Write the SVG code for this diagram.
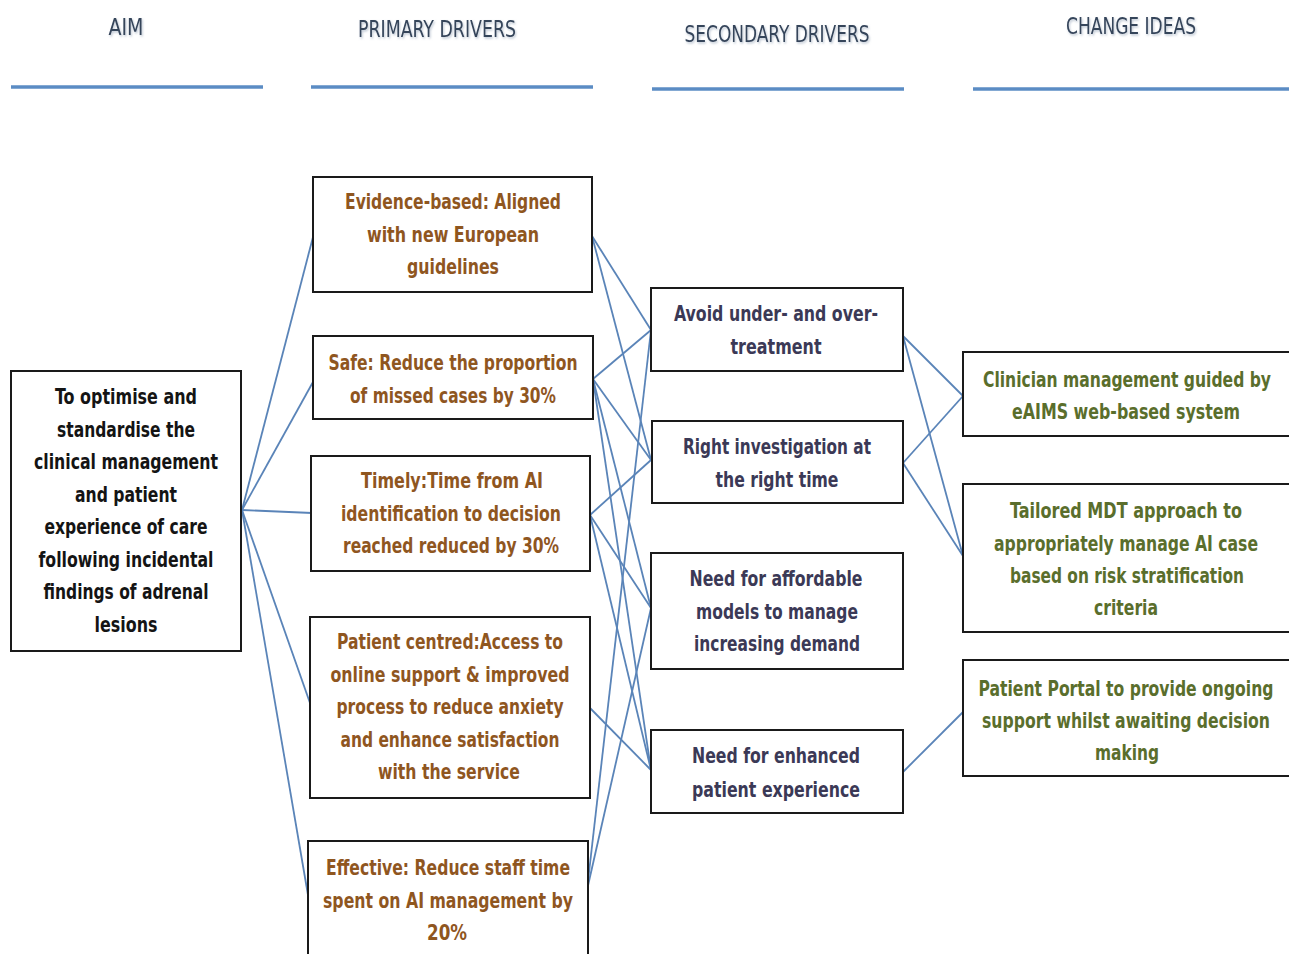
<svg xmlns="http://www.w3.org/2000/svg" width="1289" height="954" viewBox="0 0 1289 954">
<defs>
<filter id="sh" x="-10%" y="-30%" width="120%" height="160%">
<feDropShadow dx="1" dy="1.5" stdDeviation="0.8" flood-color="#8a9bb0" flood-opacity="0.6"/>
</filter>
</defs>
<style>
.bg{fill:#fff}
.box{fill:#fff;stroke:#1a1a1a;stroke-width:2}
.hdr{font-family:"DejaVu Sans Condensed","Liberation Sans",sans-serif;font-size:23px;fill:#34445a;text-anchor:middle;filter:url(#sh)}
.rule{stroke:#5b8cc4;stroke-width:3.5}
text.t{font-family:"DejaVu Sans Condensed","Liberation Sans",sans-serif;font-size:22px;font-weight:bold;text-anchor:middle}
.aim{fill:#141414}
.pri{fill:#8f561f}
.sec{fill:#3b3956}
.chg{fill:#5a6e2c}
.con line{stroke:#5a84b8;stroke-width:1.8}
</style>
<rect class="bg" x="0" y="0" width="1289" height="954"/>
<g id="headers">
<text class="hdr" x="126" y="35" textLength="35" lengthAdjust="spacingAndGlyphs">AIM</text>
<text class="hdr" x="437" y="37" textLength="158" lengthAdjust="spacingAndGlyphs">PRIMARY DRIVERS</text>
<text class="hdr" x="777" y="42" textLength="185" lengthAdjust="spacingAndGlyphs">SECONDARY DRIVERS</text>
<text class="hdr" x="1131" y="34" textLength="130" lengthAdjust="spacingAndGlyphs">CHANGE IDEAS</text>
<line class="rule" x1="11" y1="87" x2="263" y2="87"/>
<line class="rule" x1="311" y1="87" x2="593" y2="87"/>
<line class="rule" x1="652" y1="89" x2="904" y2="89"/>
<line class="rule" x1="973" y1="89" x2="1289" y2="89"/>
</g>
<g id="connectors" class="con">
<line x1="242" y1="510" x2="313" y2="237"/>
<line x1="242" y1="510" x2="313" y2="382"/>
<line x1="242" y1="510" x2="312" y2="513"/>
<line x1="242" y1="510" x2="310" y2="703"/>
<line x1="242" y1="510" x2="308" y2="895"/>
<line x1="592" y1="236" x2="651" y2="330"/>
<line x1="592" y1="236" x2="651" y2="460"/>
<line x1="593" y1="379" x2="651" y2="330"/>
<line x1="593" y1="379" x2="651" y2="460"/>
<line x1="593" y1="379" x2="651" y2="608"/>
<line x1="593" y1="379" x2="651" y2="770"/>
<line x1="590" y1="515" x2="651" y2="460"/>
<line x1="590" y1="515" x2="651" y2="608"/>
<line x1="590" y1="515" x2="651" y2="770"/>
<line x1="590" y1="708" x2="651" y2="770"/>
<line x1="587" y1="890" x2="651" y2="330"/>
<line x1="587" y1="890" x2="651" y2="608"/>
<line x1="903" y1="336" x2="963" y2="396"/>
<line x1="903" y1="336" x2="963" y2="556"/>
<line x1="903" y1="463" x2="963" y2="396"/>
<line x1="903" y1="463" x2="963" y2="556"/>
<line x1="903" y1="772" x2="963" y2="712"/>
</g>
<g id="aim">
<rect class="box" x="11" y="371" width="230" height="280"/>
<text class="t aim" x="126" y="404" textLength="142" lengthAdjust="spacingAndGlyphs">To optimise and</text>
<text class="t aim" x="126" y="437" textLength="138" lengthAdjust="spacingAndGlyphs">standardise the</text>
<text class="t aim" x="126" y="469" textLength="184" lengthAdjust="spacingAndGlyphs">clinical management</text>
<text class="t aim" x="126" y="502" textLength="102" lengthAdjust="spacingAndGlyphs">and patient</text>
<text class="t aim" x="126" y="534" textLength="163" lengthAdjust="spacingAndGlyphs">experience of care</text>
<text class="t aim" x="126" y="567" textLength="175" lengthAdjust="spacingAndGlyphs">following incidental</text>
<text class="t aim" x="126" y="599" textLength="165" lengthAdjust="spacingAndGlyphs">findings of adrenal</text>
<text class="t aim" x="126" y="632" textLength="63" lengthAdjust="spacingAndGlyphs">lesions</text>
</g>
<g id="p-evidence">
<rect class="box" x="313" y="177" width="279" height="115"/>
<text class="t pri" x="453" y="209" textLength="216" lengthAdjust="spacingAndGlyphs">Evidence-based: Aligned</text>
<text class="t pri" x="453" y="242" textLength="172" lengthAdjust="spacingAndGlyphs">with new European</text>
<text class="t pri" x="453" y="274" textLength="92" lengthAdjust="spacingAndGlyphs">guidelines</text>
</g>
<g id="p-safe">
<rect class="box" x="313" y="336" width="280" height="83"/>
<text class="t pri" x="453" y="370" textLength="249" lengthAdjust="spacingAndGlyphs">Safe: Reduce the proportion</text>
<text class="t pri" x="453" y="403" textLength="206" lengthAdjust="spacingAndGlyphs">of missed cases by 30%</text>
</g>
<g id="p-timely">
<rect class="box" x="311" y="456" width="279" height="115"/>
<text class="t pri" x="452" y="488" textLength="182" lengthAdjust="spacingAndGlyphs">Timely:Time from AI</text>
<text class="t pri" x="451" y="521" textLength="220" lengthAdjust="spacingAndGlyphs">identification to decision</text>
<text class="t pri" x="451" y="553" textLength="216" lengthAdjust="spacingAndGlyphs">reached reduced by 30%</text>
</g>
<g id="p-patient">
<rect class="box" x="310" y="617" width="280" height="181"/>
<text class="t pri" x="450" y="649" textLength="226" lengthAdjust="spacingAndGlyphs">Patient centred:Access to</text>
<text class="t pri" x="450" y="682" textLength="239" lengthAdjust="spacingAndGlyphs">online support &amp; improved</text>
<text class="t pri" x="450" y="714" textLength="227" lengthAdjust="spacingAndGlyphs">process to reduce anxiety</text>
<text class="t pri" x="450" y="747" textLength="219" lengthAdjust="spacingAndGlyphs">and enhance satisfaction</text>
<text class="t pri" x="449" y="779" textLength="142" lengthAdjust="spacingAndGlyphs">with the service</text>
</g>
<g id="p-effective">
<rect class="box" x="308" y="841" width="280" height="125"/>
<text class="t pri" x="448" y="875" textLength="244" lengthAdjust="spacingAndGlyphs">Effective: Reduce staff time</text>
<text class="t pri" x="448" y="908" textLength="250" lengthAdjust="spacingAndGlyphs">spent on AI management by</text>
<text class="t pri" x="447" y="940" textLength="40" lengthAdjust="spacingAndGlyphs">20%</text>
</g>
<g id="s-avoid">
<rect class="box" x="651" y="288" width="252" height="83"/>
<text class="t sec" x="776" y="321" textLength="204" lengthAdjust="spacingAndGlyphs">Avoid under- and over-</text>
<text class="t sec" x="776" y="354" textLength="91" lengthAdjust="spacingAndGlyphs">treatment</text>
</g>
<g id="s-right">
<rect class="box" x="652" y="421" width="251" height="82"/>
<text class="t sec" x="777" y="454" textLength="188" lengthAdjust="spacingAndGlyphs">Right investigation at</text>
<text class="t sec" x="777" y="487" textLength="123" lengthAdjust="spacingAndGlyphs">the right time</text>
</g>
<g id="s-affordable">
<rect class="box" x="651" y="553" width="252" height="116"/>
<text class="t sec" x="776" y="586" textLength="173" lengthAdjust="spacingAndGlyphs">Need for affordable</text>
<text class="t sec" x="777" y="619" textLength="162" lengthAdjust="spacingAndGlyphs">models to manage</text>
<text class="t sec" x="777" y="651" textLength="166" lengthAdjust="spacingAndGlyphs">increasing demand</text>
</g>
<g id="s-enhanced">
<rect class="box" x="651" y="730" width="252" height="83"/>
<text class="t sec" x="776" y="763" textLength="168" lengthAdjust="spacingAndGlyphs">Need for enhanced</text>
<text class="t sec" x="776" y="797" textLength="168" lengthAdjust="spacingAndGlyphs">patient experience</text>
</g>
<g id="c-clinician">
<rect class="box" x="963" y="352" width="327" height="84"/>
<text class="t chg" x="1127" y="387" textLength="288" lengthAdjust="spacingAndGlyphs">Clinician management guided by</text>
<text class="t chg" x="1126" y="419" textLength="228" lengthAdjust="spacingAndGlyphs">eAIMS web-based system</text>
</g>
<g id="c-tailored">
<rect class="box" x="963" y="484" width="327" height="148"/>
<text class="t chg" x="1126" y="518" textLength="232" lengthAdjust="spacingAndGlyphs">Tailored MDT approach to</text>
<text class="t chg" x="1126" y="551" textLength="264" lengthAdjust="spacingAndGlyphs">appropriately manage AI case</text>
<text class="t chg" x="1127" y="583" textLength="234" lengthAdjust="spacingAndGlyphs">based on risk stratification</text>
<text class="t chg" x="1126" y="615" textLength="64" lengthAdjust="spacingAndGlyphs">criteria</text>
</g>
<g id="c-portal">
<rect class="box" x="963" y="660" width="327" height="116"/>
<text class="t chg" x="1126" y="696" textLength="295" lengthAdjust="spacingAndGlyphs">Patient Portal to provide ongoing</text>
<text class="t chg" x="1126" y="728" textLength="288" lengthAdjust="spacingAndGlyphs">support whilst awaiting decision</text>
<text class="t chg" x="1127" y="760" textLength="64" lengthAdjust="spacingAndGlyphs">making</text>
</g>
</svg>
